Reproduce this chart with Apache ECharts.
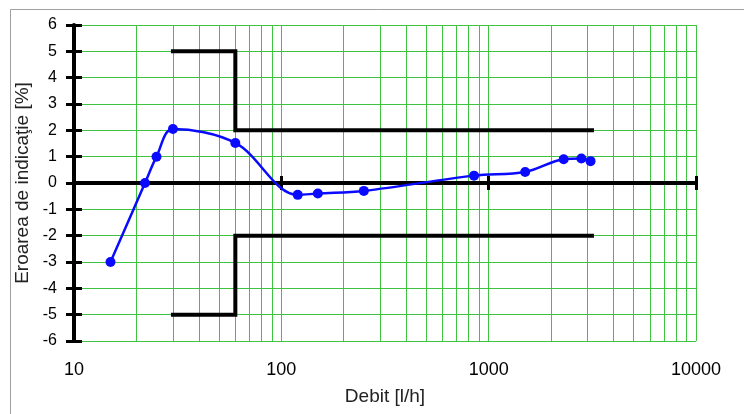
<!DOCTYPE html>
<html>
<head>
<meta charset="utf-8">
<script src="https://cdn.jsdelivr.net/npm/echarts@6/dist/echarts.min.js"></script>
<style>
html,body{margin:0;padding:0;background:#fff;}
#chart{width:744px;height:414px;}
</style>
</head>
<body>
<div id="chart"></div>
<script>
// Measured points: flow [l/h] and indication error [%]
const flow = [15, 22, 25, 30, 60, 120, 150, 250, 850, 1500, 2300, 2800, 3100];
const error = [-3.0, 0.0, 1.0, 2.05, 1.52, -0.45, -0.4, -0.3, 0.28, 0.42, 0.9, 0.93, 0.83];

// Maximum permissible error limits
const upperLimitX = [30, 60, 60, 3150];
const upperLimitY = [5, 5, 2, 2];
const lowerLimitX = [30, 60, 60, 3150];
const lowerLimitY = [-5, -5, -2, -2];

// Log grid minor lines
const minorGrid = [20, 30, 40, 50, 60, 70, 80, 90, 200, 300, 400, 500, 600, 700, 800, 900, 2000, 3000, 4000, 5000, 6000, 7000, 8000, 9000];

const xMin = 10, xMax = 10000;
const yMin = -6, yMax = 6, yStep = 1;

const xName = 'Debit [l/h]';
const yName = 'Eroarea de indicaţie [%]';

const FONT = 'Liberation Sans, Arial, sans-serif';
const GREEN = '#3fc43f';

const pairs = (xs, ys) => xs.map((x, i) => [x, ys[i]]);

const chart = echarts.init(document.getElementById('chart'));
const gridRect = { left: 74, right: 48, top: 25, bottom: 73 };

chart.setOption({
  animation: false,
  backgroundColor: '#fff',
  graphic: [{
    type: 'rect', left: 8, top: 7, shape: { width: 900, height: 600 },
    style: { fill: 'none', stroke: '#a0a0a0', lineWidth: 1 }, z: -10
  }],
  grid: [Object.assign({}, gridRect), Object.assign({}, gridRect)],
  xAxis: [
    {
      gridIndex: 0, type: 'log', logBase: 10, min: xMin, max: xMax, position: 'bottom',
      axisLine: { onZero: false, show: true, lineStyle: { color: '#000', width: 1, type: [4, 4] } },
      axisTick: { show: false },
      axisLabel: { fontFamily: FONT, fontSize: 18, color: '#000', margin: 20, formatter: v => String(Math.round(v)) },
      splitLine: { show: true, lineStyle: { color: GREEN, width: 1 } },
      name: xName, nameLocation: 'middle', nameGap: 46,
      nameTextStyle: { fontFamily: FONT, fontSize: 19, color: '#222' }
    },
    {
      gridIndex: 0, type: 'log', logBase: 10, min: xMin, max: xMax, position: 'top', z: 5,
      axisLine: { onZero: true, show: true, lineStyle: { color: '#000', width: 4 } },
      axisTick: { show: true, length: 7, lineStyle: { color: '#000', width: 3 } },
      axisLabel: { show: false },
      splitLine: { show: false }
    },
    {
      gridIndex: 1, type: 'log', logBase: 10, min: xMin, max: xMax, position: 'bottom', z: 5,
      axisLine: { onZero: true, show: false },
      axisTick: { show: true, length: 7, lineStyle: { color: '#000', width: 3 } },
      axisLabel: { show: false },
      splitLine: { show: false }
    }
  ],
  yAxis: [
    {
      gridIndex: 0, type: 'value', min: yMin, max: yMax, interval: yStep, position: 'left', z: 5,
      axisLine: { show: true, lineStyle: { color: '#000', width: 4 } },
      axisTick: { show: true, length: 8, lineStyle: { color: '#000', width: 3 } },
      axisLabel: { fontFamily: FONT, fontSize: 16, color: '#000', margin: 17 },
      splitLine: { show: true, lineStyle: { color: GREEN, width: 1 } },
      name: yName, nameLocation: 'middle', nameGap: 42,
      nameTextStyle: { fontFamily: FONT, fontSize: 19, color: '#222' }
    },
    {
      gridIndex: 1, type: 'value', min: yMin, max: yMax, interval: yStep, position: 'left', z: 5,
      axisLine: { show: false },
      axisTick: { show: true, inside: true, length: 8, lineStyle: { color: '#000', width: 3 } },
      axisLabel: { show: false },
      splitLine: { show: false }
    }
  ],
  series: [
    {
      name: 'grid', type: 'line', xAxisIndex: 0, yAxisIndex: 0, data: [], z: 1, silent: true,
      markLine: {
        silent: true, symbol: ['none', 'none'], label: { show: false },
        lineStyle: { color: GREEN, width: 1, type: 'solid' },
        data: minorGrid.map(v => ({ xAxis: v }))
      }
    },
    {
      name: 'upper', type: 'line', xAxisIndex: 0, yAxisIndex: 0, z: 6,
      data: pairs(upperLimitX, upperLimitY), showSymbol: false, symbol: 'none',
      lineStyle: { color: '#000', width: 4, cap: 'square', join: 'miter' }
    },
    {
      name: 'lower', type: 'line', xAxisIndex: 0, yAxisIndex: 0, z: 6,
      data: pairs(lowerLimitX, lowerLimitY), showSymbol: false, symbol: 'none',
      lineStyle: { color: '#000', width: 4, cap: 'square', join: 'miter' }
    },
    {
      name: 'error', type: 'line', xAxisIndex: 0, yAxisIndex: 0, z: 8,
      data: pairs(flow, error), smooth: 0.35,
      symbol: 'circle', symbolSize: 10,
      itemStyle: { color: '#0a0aff' },
      lineStyle: { color: '#0a0aff', width: 2.5 }
    }
  ]
});
</script>
</body>
</html>
